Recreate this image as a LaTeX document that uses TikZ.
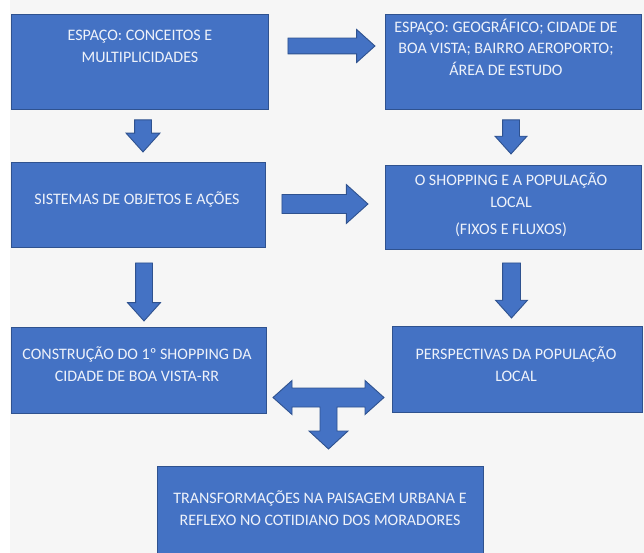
\documentclass[tikz,border=0pt]{standalone}
\usepackage{fontspec}
\setmainfont{Carlito}
\usetikzlibrary{shapes.arrows,calc}
\definecolor{boxblue}{HTML}{4472C4}
\definecolor{boxline}{HTML}{2F528F}
\definecolor{boxtext}{HTML}{EEF2FA}
\definecolor{paper}{HTML}{F6F6F6}
\tikzset{
  box/.style={rectangle, fill=boxblue, draw=boxline, line width=1pt, inner sep=0pt},
  txt/.style={text=boxtext, align=center, inner sep=0pt, font=\fontsize{16}{21.5}\selectfont},
  blockarrow/.style={single arrow, fill=boxblue, draw=boxline, line width=0.9pt,
    inner xsep=0pt, single arrow tip angle=84, anchor=tail}
}
\begin{document}
\begin{tikzpicture}[x=1pt, y=-1pt]
  \clip (0,0) rectangle (644,553);
  \fill[white] (0,0) rectangle (644,553);
  \fill[paper] (10,0) rectangle (644,553);
  % boxes
  \node[box, minimum width=257, minimum height=95] (esp) at (139.5,62.5) {};
  \node[box, minimum width=256, minimum height=95] (geo) at (513,62.5) {};
  \node[box, minimum width=254, minimum height=84] (sis) at (138,205) {};
  \node[box, minimum width=256, minimum height=83] (shop) at (513,207.5) {};
  \node[box, minimum width=255, minimum height=86] (cons) at (138.5,370) {};
  \node[box, minimum width=250, minimum height=86] (persp) at (517,369) {};
  \node[box, minimum width=326, minimum height=92] (transf) at (320,512) {};
  % texts
  \node[txt] (esp-t) at (140,46.5) {ESPAÇO: CONCEITOS E\\MULTIPLICIDADES};
  \node[txt] (geo-t) at (506,47) {ESPAÇO: GEOGRÁFICO; CIDADE DE\\BOA VISTA; BAIRRO AEROPORTO;\\ÁREA DE ESTUDO};
  \node[txt] (sis-t) at (137,199) {SISTEMAS DE OBJETOS E AÇÕES};
  \node[txt] (shop-t) at (511,205) {O SHOPPING E A POPULAÇÃO\\LOCAL\\[6pt](FIXOS E FLUXOS)};
  \node[txt] (cons-t) at (137,364) {CONSTRUÇÃO DO 1º SHOPPING DA\\CIDADE DE BOA VISTA-RR};
  \node[txt] (persp-t) at (516,364) {PERSPECTIVAS DA POPULAÇÃO\\LOCAL};
  \node[txt] (transf-t) at (320,508) {TRANSFORMAÇÕES NA PAISAGEM URBANA E\\REFLEXO NO COTIDIANO DOS MORADORES};
  % arrows
  \node[blockarrow, inner ysep=7.5, minimum height=87, minimum width=32, single arrow head extend=8.5]
    (a1) at ($(esp.east)+(19,-16.5)$) {};
  \node[blockarrow, rotate=-90, inner ysep=8, minimum height=32, minimum width=33, single arrow head extend=8.5]
    (a2) at ($(esp.south)+(3.5,9)$) {};
  \node[blockarrow, rotate=-90, inner ysep=8, minimum height=34, minimum width=31, single arrow head extend=7.5]
    (a3) at ($(geo.south)+(-2,9)$) {};
  \node[blockarrow, inner ysep=9, minimum height=86, minimum width=38, single arrow head extend=10]
    (a4) at ($(sis.east)+(16,-1)$) {};
  \node[blockarrow, rotate=-90, inner ysep=8, minimum height=58, minimum width=32, single arrow head extend=8]
    (a5) at ($(sis.south)+(6,15)$) {};
  \node[blockarrow, rotate=-90, inner ysep=8.5, minimum height=55, minimum width=31, single arrow head extend=7]
    (a6) at ($(shop.south)+(-1.5,13)$) {};
  % T-shaped arrow
  \draw[fill=boxblue, draw=boxline, line width=0.9pt, line join=miter]
    (273,397.5) -- (292,380.5) -- (292,388) -- (365,388) -- (365,380.5) -- (384,397.5)
    -- (365,414.5) -- (365,407) -- (337,407) -- (337,431) -- (348,431) -- (328.5,449)
    -- (309,431) -- (320,431) -- (320,407) -- (292,407) -- (292,414.5) -- cycle;
\end{tikzpicture}
\end{document}
